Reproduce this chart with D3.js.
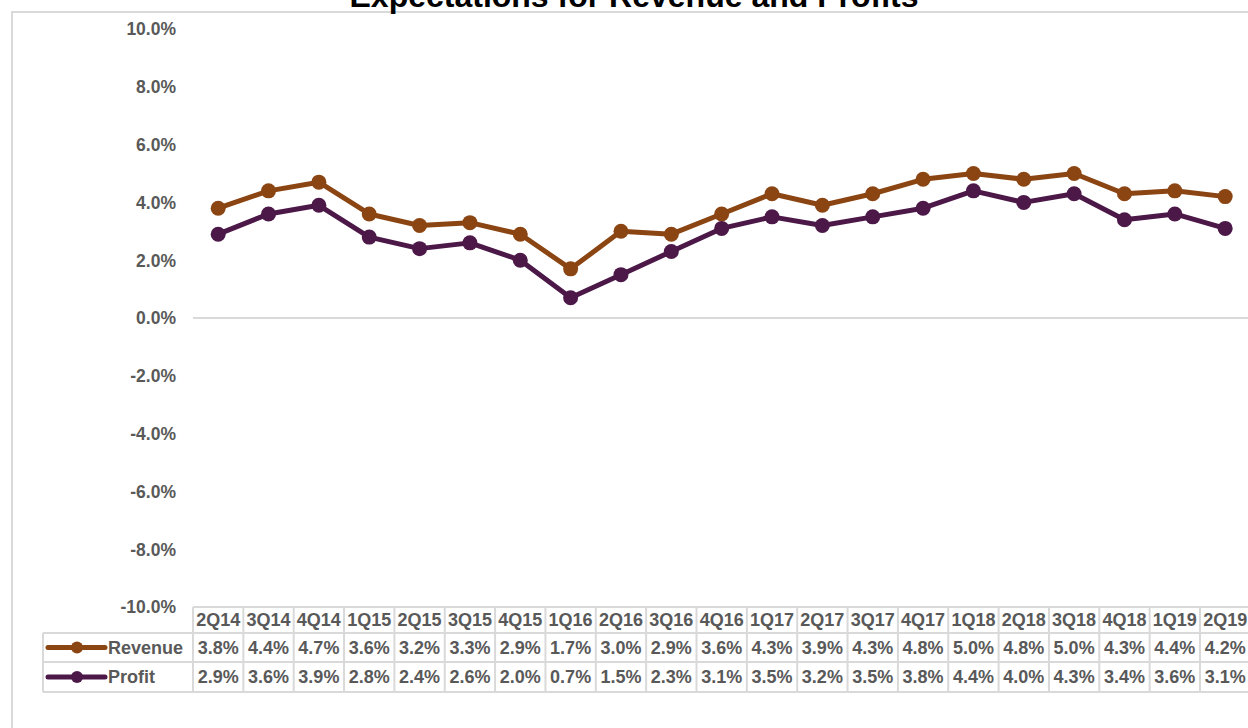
<!DOCTYPE html>
<html>
<head>
<meta charset="utf-8">
<script src="https://cdn.jsdelivr.net/npm/d3@7"></script>
<style>
    body { margin: 0; background: #fff; }
    svg { display: block; font-family: Arial, 'Liberation Sans', sans-serif; }
</style>
</head>
<body>
<div id="chart"></div>
<script>
var quarters = ['2Q14','3Q14','4Q14','1Q15','2Q15','3Q15','4Q15','1Q16','2Q16','3Q16','4Q16',
    '1Q17','2Q17','3Q17','4Q17','1Q18','2Q18','3Q18','4Q18','1Q19','2Q19'];
var revenue = [3.8,4.4,4.7,3.6,3.2,3.3,2.9,1.7,3.0,2.9,3.6,4.3,3.9,4.3,4.8,5.0,4.8,5.0,4.3,4.4,4.2];
var profit = [2.9,3.6,3.9,2.8,2.4,2.6,2.0,0.7,1.5,2.3,3.1,3.5,3.2,3.5,3.8,4.4,4.0,4.3,3.4,3.6,3.1];
var yTicks = [10,8,6,4,2,0,-2,-4,-6,-8,-10];
var seriesNames = ['Revenue','Profit'];
var seriesColors = ['#8B4513','#4B1848'];

var width = 1248, height = 728;
var gridColor = '#d9d9d9', textColor = '#595959';

var svg = d3.select('#chart').append('svg').attr('width', width).attr('height', height);

var x = d3.scaleBand().domain(quarters).range([193, 193 + 21*50.35]).padding(0);
var y = d3.scaleLinear().domain([-10, 10]).range([607, 29]);

// chart area border (top + left)
svg.append('path')
    .attr('d', 'M12,' + height + 'V12H' + width)
    .attr('fill', 'none').attr('stroke', gridColor).attr('stroke-width', 2);

// title sits partly above the visible area, as in the original
svg.append('text')
    .attr('x', 634).attr('y', 7)
    .attr('text-anchor', 'middle')
    .attr('font-size', 32).attr('font-weight', 'bold').attr('fill', '#000')
    .text('Expectations for Revenue and Profits');

// y axis labels (plain hyphen for negatives)
svg.append('g').selectAll('text').data(yTicks).enter().append('text')
    .attr('x', 176).attr('y', function(d) { return y(d); })
    .attr('dy', '0.36em')
    .attr('text-anchor', 'end')
    .attr('font-size', 17.5).attr('font-weight', 'bold').attr('fill', textColor)
    .text(function(d) { return d.toFixed(1) + '%'; });

// zero line
svg.append('line')
    .attr('x1', x.range()[0]).attr('x2', width)
    .attr('y1', y(0)).attr('y2', y(0))
    .attr('stroke', gridColor).attr('stroke-width', 2);

// data table
var rowTop = [607, 633, 662], rowBottom = 692;
var legendLeft = 43;
var table = svg.append('g').attr('stroke', gridColor).attr('stroke-width', 2);
var xr = x.range();
table.append('line').attr('x1', xr[0]).attr('x2', xr[1]).attr('y1', rowTop[0]).attr('y2', rowTop[0]);
[rowTop[1], rowTop[2], rowBottom].forEach(function(yy) {
    table.append('line').attr('x1', legendLeft).attr('x2', xr[1]).attr('y1', yy).attr('y2', yy);
});
table.append('line').attr('x1', legendLeft).attr('x2', legendLeft).attr('y1', rowTop[1]).attr('y2', rowBottom);
quarters.forEach(function(q) {
    var xx = x(q);
    table.append('line').attr('x1', xx).attr('x2', xx).attr('y1', rowTop[0]).attr('y2', rowBottom);
});

var cellText = svg.append('g')
    .attr('font-size', 18).attr('font-weight', 'bold').attr('fill', textColor)
    .attr('text-anchor', 'middle');

cellText.selectAll('.hdr').data(quarters).enter().append('text')
    .attr('class', 'hdr')
    .attr('x', function(d) { return x(d) + x.bandwidth()/2; })
    .attr('y', (rowTop[0] + rowTop[1])/2).attr('dy', '0.36em')
    .text(function(d) { return d; });

[revenue, profit].forEach(function(vals, s) {
    var cy = (rowTop[s+1] + (s === 0 ? rowTop[2] : rowBottom))/2;
    cellText.append('g').selectAll('text').data(vals).enter().append('text')
        .attr('x', function(d, i) { return x(quarters[i]) + x.bandwidth()/2; })
        .attr('y', cy).attr('dy', '0.36em')
        .text(function(d) { return d.toFixed(1) + '%'; });

    // legend key inside table
    var lg = svg.append('g');
    lg.append('line').attr('x1', 48).attr('x2', 105).attr('y1', cy).attr('y2', cy)
        .attr('stroke', seriesColors[s]).attr('stroke-width', 5).attr('stroke-linecap', 'round');
    lg.append('circle').attr('cx', 77).attr('cy', cy).attr('r', 6).attr('fill', seriesColors[s]);
    lg.append('text').attr('x', 108).attr('y', cy).attr('dy', '0.36em')
        .attr('font-size', 18).attr('font-weight', 'bold').attr('fill', textColor)
        .text(seriesNames[s]);
});

// series lines and markers
var line = d3.line()
    .x(function(d, i) { return x(quarters[i]) + x.bandwidth()/2; })
    .y(function(d) { return y(d); });

[revenue, profit].forEach(function(vals, s) {
    var g = svg.append('g');
    g.append('path').datum(vals)
        .attr('d', line)
        .attr('fill', 'none').attr('stroke', seriesColors[s])
        .attr('stroke-width', 5).attr('stroke-linejoin', 'round');
    g.selectAll('circle').data(vals).enter().append('circle')
        .attr('cx', function(d, i) { return x(quarters[i]) + x.bandwidth()/2; })
        .attr('cy', function(d) { return y(d); })
        .attr('r', 7.5)
        .attr('fill', seriesColors[s]);
});
</script>
</body>
</html>
